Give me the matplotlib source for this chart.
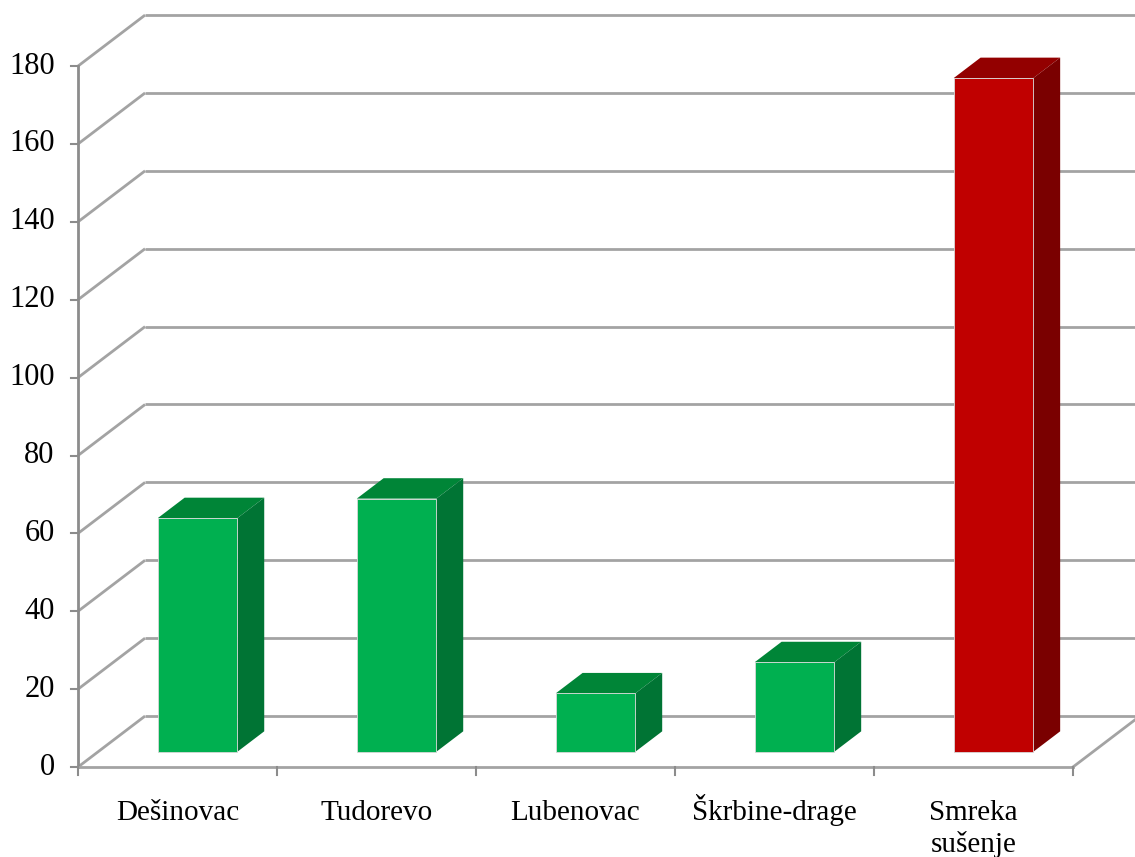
import matplotlib.pyplot as plt
from matplotlib.patches import Polygon

categories = ['Dešinovac', 'Tudorevo', 'Lubenovac', 'Škrbine-drage', 'Smreka\nsušenje']
values = [60, 65, 15, 23, 173]
front_colors = ['#00b050', '#00b050', '#00b050', '#00b050', '#c00000']
top_colors = ['#008537', '#008537', '#008537', '#008537', '#930000']
side_colors = ['#007434', '#007434', '#007434', '#007434', '#7a0000']
yticks = list(range(0, 181, 20))

plt.rcParams['font.family'] = ['Liberation Serif', 'DejaVu Serif']

# depth of the back wall, in data units (x: categories, y: values)
DX, DY = 0.337, 13.1
front = 0.3   # bar front face position along depth
back = 0.7    # bar back face position along depth
width = 0.4
grid_c = '#a3a3a3'

fig = plt.figure(figsize=(11.35, 8.57), dpi=100)
ax = fig.add_axes([0, 0, 1, 1])
ax.set_xlim(-0.392, 5.312)
ax.set_ylim(-23.1, 196.97)
ax.axis('off')

# back wall gridlines and the diagonal side lines
for t in yticks:
    ax.plot([0, DX], [t, t + DY], color=grid_c, lw=2, solid_capstyle='butt', zorder=1)
    ax.plot([DX, 5.5], [t + DY, t + DY], color=grid_c, lw=2, solid_capstyle='butt', zorder=1)
    ax.plot([-0.035, 0], [t, t], color='#8c8c8c', lw=1.5, zorder=2)
    ax.text(-0.118, t, str(t), ha='right', va='center', fontsize=22)

# value axis and floor
ax.plot([0, 0], [0, 180], color='#8c8c8c', lw=2, zorder=2)
ax.plot([0, 5], [0, 0], color=grid_c, lw=2, zorder=2)
ax.plot([5, 5 + DX], [0, DY], color=grid_c, lw=2, zorder=2)
for i in range(6):
    ax.plot([i, i], [0, -2.1], color='#8c8c8c', lw=1.5, zorder=2)

# bars as boxes
for i, v in enumerate(values):
    x0 = i + 0.5 - width / 2 + front * DX
    x1 = x0 + width
    y0 = front * DY
    ox, oy = (back - front) * DX, (back - front) * DY
    top = Polygon([(x0, y0 + v), (x1, y0 + v), (x1 + ox, y0 + v + oy), (x0 + ox, y0 + v + oy)],
                  closed=True, facecolor=top_colors[i], edgecolor='none', zorder=3)
    side = Polygon([(x1, y0), (x1 + ox, y0 + oy), (x1 + ox, y0 + v + oy), (x1, y0 + v)],
                   closed=True, facecolor=side_colors[i], edgecolor='none', zorder=3)
    face = Polygon([(x0, y0), (x1, y0), (x1, y0 + v), (x0, y0 + v)],
                   closed=True, facecolor=front_colors[i], edgecolor='#d8d8d8', lw=0.6, zorder=4)
    ax.add_patch(top)
    ax.add_patch(side)
    ax.add_patch(face)

# category labels, one line at a time
for i, c in enumerate(categories):
    for k, line in enumerate(c.split('\n')):
        ax.text(i + 0.5, -13.6 - k * 8.2, line, ha='center', va='baseline', fontsize=21)

fig.savefig('out.png', dpi=100)
